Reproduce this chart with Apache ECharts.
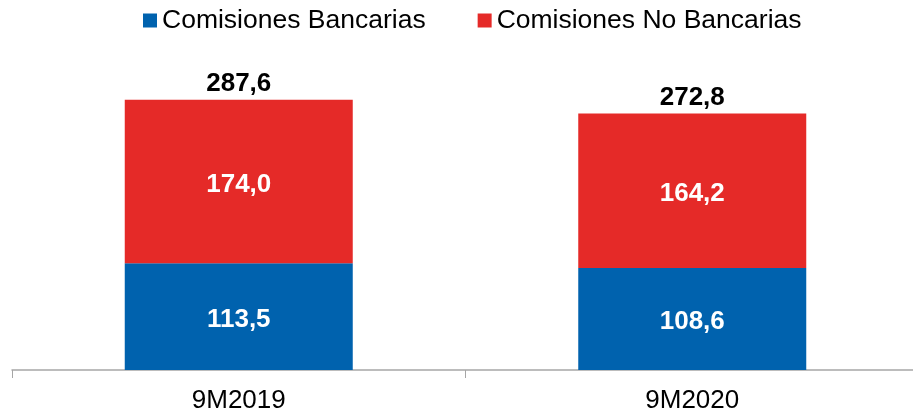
<!DOCTYPE html>
<html>
<head>
<meta charset="utf-8">
<script src="https://cdn.jsdelivr.net/npm/echarts@6/dist/echarts.min.js"></script>
<style>
html,body{margin:0;padding:0;background:#fff;}
#c{width:913px;height:416px;}
</style>
</head>
<body>
<div id="c"></div>
<script>
const categories = ['9M2019', '9M2020'];
const bancarias = [113.5, 108.6];
const noBancarias = [174.0, 164.2];
const totals = [287.6, 272.8];
const seriesNames = ['Comisiones Bancarias', 'Comisiones No Bancarias'];

const fmt = v => v.toFixed(1).replace('.', ',');
const FONT = 'Liberation Sans, Arial, sans-serif';

const chart = echarts.init(document.getElementById('c'), null, {renderer: 'canvas'});
chart.setOption({
  animation: false,
  textStyle: {fontFamily: FONT},
  legend: {
    data: seriesNames,
    left: 138,
    top: 2,
    icon: 'rect',
    itemWidth: 14,
    itemHeight: 14,
    itemGap: 52,
    textStyle: {fontFamily: FONT, fontSize: 26.5, color: '#000'}
  },
  grid: {left: 12, width: 907, top: 88, bottom: 46, outerBoundsMode: 'none'},
  xAxis: {
    type: 'category',
    data: categories,
    axisLine: {lineStyle: {color: '#a6a6a6', width: 1.5}},
    axisTick: {show: true, length: 8, lineStyle: {color: '#a6a6a6', width: 1}},
    axisLabel: {color: '#000', fontSize: 26, fontFamily: FONT, margin: 18}
  },
  yAxis: {type: 'value', min: 0, max: 300, show: false, splitLine: {show: false}},
  series: [
    {
      name: seriesNames[0], type: 'bar', stack: 't', data: bancarias, barWidth: 228,
      itemStyle: {color: '#0062AE'},
      label: {show: true, position: 'inside', offset: [0, 3], color: '#fff', fontWeight: 'bold', fontSize: 26, fontFamily: FONT, formatter: p => fmt(p.value)}
    },
    {
      name: seriesNames[1], type: 'bar', stack: 't', data: noBancarias, barWidth: 228,
      itemStyle: {color: '#E52A28'},
      label: {show: true, position: 'inside', offset: [0, 3], color: '#fff', fontWeight: 'bold', fontSize: 26, fontFamily: FONT, formatter: p => fmt(p.value)}
    },
    {
      name: 'Total', type: 'scatter', data: totals, symbolSize: 0, silent: true,
      itemStyle: {color: '#000', opacity: 1},
      label: {show: true, position: 'top', distance: 3, color: '#000', fontWeight: 'bold', fontSize: 26, fontFamily: FONT, formatter: p => fmt(p.value)}
    }
  ]
});
</script>
</body>
</html>
